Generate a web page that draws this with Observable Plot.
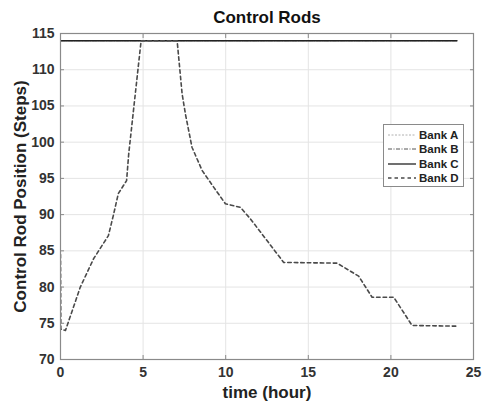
<!DOCTYPE html>
<html>
<head>
<meta charset="utf-8">
<script src="https://cdn.jsdelivr.net/npm/d3@7"></script>
<script src="https://cdn.jsdelivr.net/npm/@observablehq/plot@0.6"></script>
<style>
  html, body { margin: 0; padding: 0; background: #fff; }
  #wrap { position: relative; width: 483px; height: 404px; font-family: Arial, "Liberation Sans", sans-serif; }
  #legend { position: absolute; left: 383px; top: 124px; width: 79px; height: 61px; background: #fff; border: 1px solid #8a8a8a; }
  .item { position: absolute; left: 0; height: 14px; font-weight: bold; font-size: 11.5px; color: #222; white-space: nowrap; }
  .item svg { position: absolute; left: 3px; top: 0; }
  .item span { position: absolute; left: 35px; top: 0; line-height: 14px; }
</style>
</head>
<body>
<div id="wrap"></div>
<script>
// ---- data ----
const seriesNames = ["Bank A", "Bank B", "Bank C", "Bank D"];
const seriesColors = ["#b0b0b0", "#555555", "#222222", "#4a4a4a"];
const seriesDash = ["2,1.5", "4,1.5,1,1.5", null, "3.5,3"];
const seriesWidth = [1, 1, 1.3, 1.6];

const timeABC = [0, 24];
const bankA = [114, 114];
const bankB = [114, 114];
const bankC = [114, 114];

const timeD = [0, 0.02, 0.3, 1.2, 2.0, 2.9, 3.2, 3.5, 4.0, 4.13, 4.88, 7.06, 7.36, 7.56, 7.96, 8.57, 9.27, 9.98, 10.89, 11.5, 13.51, 16.74, 18.05, 18.86, 20.17, 21.28, 24.0];
const bankD = [84.5, 74.2, 74.0, 80.0, 83.9, 87.1, 89.9, 92.9, 94.7, 98.4, 114, 114, 106.7, 103.9, 99.3, 96.1, 93.8, 91.5, 91.0, 89.4, 83.4, 83.3, 81.5, 78.6, 78.6, 74.7, 74.6];

const xTicks = [0, 5, 10, 15, 20, 25];
const yTicks = [70, 75, 80, 85, 90, 95, 100, 105, 110, 115];

const titleText = "Control Rods";
const xLabel = "time (hour)";
const yLabel = "Control Rod Position (Steps)";

// ---- build ----
const seriesData = [
  timeABC.map((t, i) => ({t, v: bankA[i]})),
  timeABC.map((t, i) => ({t, v: bankB[i]})),
  timeABC.map((t, i) => ({t, v: bankC[i]})),
  timeD.map((t, i) => ({t, v: bankD[i]}))
];

const lineMarks = seriesData.map((d, k) => Plot.line(d, {
  x: "t", y: "v",
  stroke: seriesColors[k],
  strokeWidth: seriesWidth[k],
  strokeDasharray: seriesDash[k] || undefined,
  clip: true
}));

const font = "Arial, 'Liberation Sans', sans-serif";

const chart = Plot.plot({
  width: 483,
  height: 404,
  marginLeft: 60,
  marginRight: 10,
  marginTop: 33,
  marginBottom: 45,
  style: {fontFamily: font, background: "#fff", overflow: "visible"},
  x: {domain: [0, 25], ticks: xTicks},
  y: {domain: [70, 115], ticks: yTicks},
  marks: [
    Plot.gridX(xTicks, {stroke: "#e4e4e4", strokeOpacity: 1}),
    Plot.gridY(yTicks, {stroke: "#e4e4e4", strokeOpacity: 1}),
    ...lineMarks,
    Plot.frame({stroke: "#8a8a8a", strokeWidth: 1.2}),
    Plot.axisX(xTicks, {anchor: "bottom", tickSize: 0, tickPadding: 8, fontSize: 14, fontWeight: "bold", fill: "#333", label: null}),
    Plot.axisX(xTicks, {anchor: "bottom", tickSize: -4, text: null, stroke: "#8a8a8a", label: null}),
    Plot.axisX(xTicks, {anchor: "top", tickSize: -4, text: null, stroke: "#8a8a8a", label: null}),
    Plot.axisY(yTicks, {anchor: "left", tickSize: 0, tickPadding: 6, fontSize: 14, fontWeight: "bold", fill: "#333", label: null}),
    Plot.axisY(yTicks, {anchor: "left", tickSize: -4, text: null, stroke: "#8a8a8a", label: null}),
    Plot.axisY(yTicks, {anchor: "right", tickSize: -4, text: null, stroke: "#8a8a8a", label: null}),
    Plot.text([titleText], {frameAnchor: "top", dy: -16, lineAnchor: "middle", text: d => d, fontSize: 17, fontWeight: "bold", fill: "#111"}),
    Plot.text([xLabel], {frameAnchor: "bottom", dy: 33, lineAnchor: "middle", text: d => d, fontSize: 17, fontWeight: "bold", fill: "#222"}),
    Plot.text([yLabel], {frameAnchor: "left", dx: -40, rotate: -90, textAnchor: "middle", lineAnchor: "middle", text: d => d, fontSize: 17, fontWeight: "bold", fill: "#222"})
  ]
});

const wrap = document.getElementById("wrap");
wrap.appendChild(chart);

// ---- legend (HTML overlay) ----
const legend = document.createElement("div");
legend.id = "legend";
seriesNames.forEach((name, k) => {
  const item = document.createElement("div");
  item.className = "item";
  item.style.top = (3 + k * 14.3) + "px";
  const dash = seriesDash[k] ? ` stroke-dasharray="${seriesDash[k]}"` : "";
  item.innerHTML = `<svg width="30" height="14"><line x1="1" y1="7" x2="29" y2="7" stroke="${seriesColors[k]}" stroke-width="${seriesWidth[k]}"${dash}/></svg><span>${name}</span>`;
  legend.appendChild(item);
});
wrap.appendChild(legend);
</script>
</body>
</html>
